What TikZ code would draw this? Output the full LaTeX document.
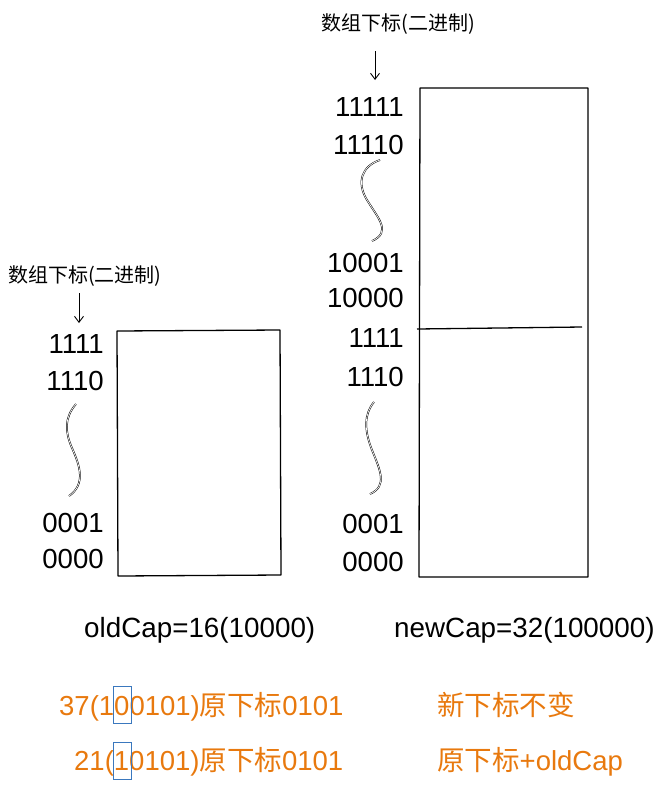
\documentclass[tikz,border=0pt]{standalone}
\usepackage{fontspec}
\setmainfont{Liberation Sans}
\newfontfamily\cjk{Noto Sans CJK SC}
\usetikzlibrary{arrows.meta}
\definecolor{orng}{HTML}{E8790E}
\definecolor{blu}{HTML}{3A78BE}
\tikzset{
  idx/.style={anchor=base east, inner sep=0pt, font=\fontsize{27.6}{30}\selectfont},
  caplabel/.style={anchor=base west, inner sep=0pt, font=\fontsize{27.8}{30}\selectfont},
  note/.style={anchor=base west, inner sep=0pt, text=orng, font=\fontsize{27.5}{30}\selectfont},
  head/.style={inner sep=0pt, font=\fontsize{20}{24}\selectfont\cjk},
  boxline/.style={line width=1.3pt, line join=round},
  pointer/.style={line width=0.9pt, -{Straight Barb[length=6pt,width=9pt]}},
  squig/.style={double, double distance=0.7pt, line width=0.5pt},
  bitbox/.style={draw=blu, line width=1pt, inner sep=0pt, minimum width=18pt, minimum height=37pt}
}
\begin{document}
\begin{tikzpicture}[x=1pt,y=-1pt]
\useasboundingbox (0,0) rectangle (665,793);
% ---------- left (old) array ----------
\node[head] (lhead) at (85,276) {数组下标(二进制)};
\coordinate (larrowtop) at (79,293);
\coordinate (larrowend) at (79,323);
\draw[pointer] (larrowtop) -- (larrowend);
\coordinate (la) at (117,331);
\coordinate (lb) at (280,330);
\coordinate (lc) at (281,575);
\coordinate (ld) at (118,576);
\draw[boxline] (la) -- (lb) -- (lc) -- (ld) -- cycle;
\node[idx] (l1111) at (104,353) {1111};
\node[idx] (l1110) at (104,390) {1110};
\node[idx] (l0001) at (104,532) {0001};
\node[idx] (l0000) at (104,568) {0000};
\draw[squig] (76,404) .. controls (64,418) and (65,432) .. (72,448) .. controls (80,466) and (86,484) .. (69,496);
\node[caplabel] (oldcap) at (84,637) {oldCap=16(10000)};
% ---------- right (new) array ----------
\node[head] (rhead) at (398,24) {数组下标(二进制)};
\coordinate (rarrowtop) at (375,51);
\coordinate (rarrowend) at (375,80);
\draw[pointer] (rarrowtop) -- (rarrowend);
\coordinate (ra) at (420,88);
\coordinate (rb) at (588,88);
\coordinate (rc) at (588,577);
\coordinate (rd) at (419,577);
\draw[boxline] (ra) -- (rb) -- (rc) -- (rd) -- cycle;
\coordinate (mida) at (417,329);
\coordinate (midb) at (582,327);
\draw[boxline] (mida) -- (midb);
\node[idx] (r11111) at (404,116) {11111};
\node[idx] (r11110) at (404,154) {11110};
\node[idx] (r10001) at (404,272) {10001};
\node[idx] (r10000) at (404,307) {10000};
\node[idx] (r1111) at (404,347) {1111};
\node[idx] (r1110) at (404,386) {1110};
\node[idx] (r0001) at (404,533) {0001};
\node[idx] (r0000) at (404,571) {0000};
\draw[squig] (380,160) .. controls (362,166) and (356,182) .. (367,200) .. controls (378,218) and (392,232) .. (372,241);
\draw[squig] (374,402) .. controls (364,414) and (364,430) .. (372,450) .. controls (380,470) and (388,486) .. (370,494);
\node[caplabel] (newcap) at (394,637) {newCap=32(100000)};
% ---------- notes ----------
\node[note] (n37) at (59,715) {37(100101){\cjk 原下标}0101};
\node[note] (n21) at (74,770) {21(10101){\cjk 原下标}0101};
\node[note] (same) at (437,715) {\cjk 新下标不变};
\node[note] (plus) at (437,770) {{\cjk 原下标}+oldCap};
\node[bitbox] (bit1) at (122,704.5) {};
\node[bitbox] (bit2) at (122.5,761) {};
\end{tikzpicture}
\end{document}
